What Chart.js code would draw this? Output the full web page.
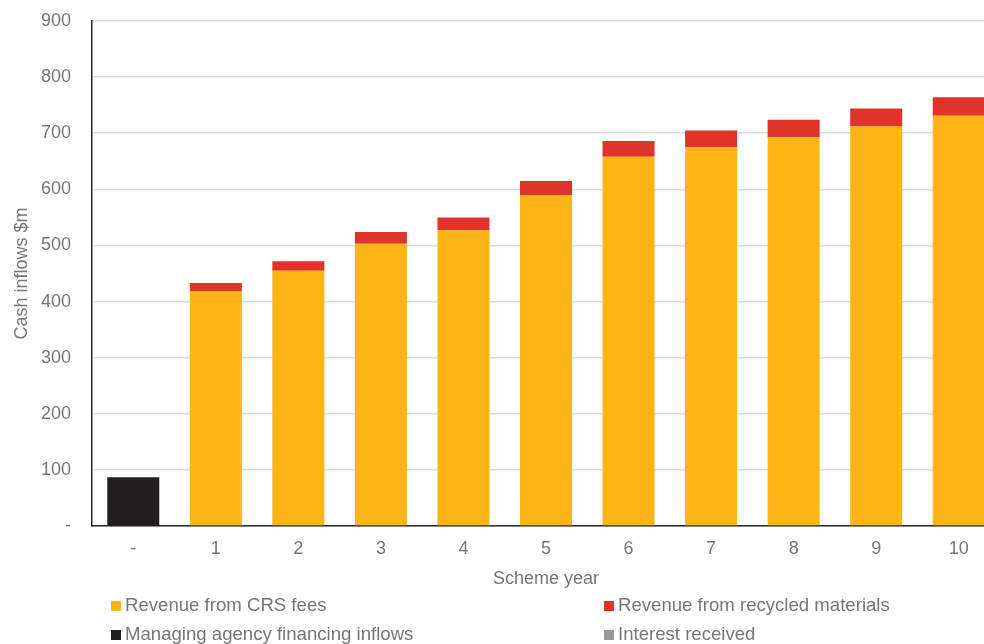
<!DOCTYPE html>
<html>
<head>
<meta charset="utf-8">
<script src="https://cdn.jsdelivr.net/npm/chart.js@4.4.1/dist/chart.umd.min.js"></script>
<style>
  html, body { margin: 0; padding: 0; background: #ffffff; overflow: hidden; }
  #wrap { position: relative; width: 1000px; height: 644px; }
</style>
</head>
<body>
<div id="wrap"><canvas id="chart"></canvas></div>
<script>
// Scheme years ('-' is the pre-launch year)
const categories = ['-', '1', '2', '3', '4', '5', '6', '7', '8', '9', '10'];

// Cash inflows, $m
const crsFees          = [null, 418, 455, 503, 527, 589, 658, 675, 693, 712, 731];
const recycledMaterials = [null, 15, 17, 21, 23, 26, 28, 30, 31, 32, 33];
const agencyFinancing  = [87, null, null, null, null, null, null, null, null, null, null];
const interestReceived = [0, 0, 0, 0, 0, 0, 0, 0, 0, 0, 0];

const seriesNames = [
  'Revenue from CRS fees',
  'Revenue from recycled materials',
  'Managing agency financing inflows',
  'Interest received'
];
const seriesColors = ['#FDB415', '#E0332A', '#231F20', '#999999'];

const yTicks = [0, 100, 200, 300, 400, 500, 600, 700, 800, 900];

const TEXT = '#767676';
const FAMILY = '"Liberation Sans", Arial, sans-serif';
const FONT = { family: FAMILY, size: 18 };

// Two-column legend drawn under the axis title
const gridLegend = {
  id: 'gridLegend',
  afterDraw(chart) {
    const ctx = chart.ctx;
    const cols = [111, 604];
    const rows = [606, 635];
    ctx.save();
    ctx.font = '18.6px ' + FAMILY;
    ctx.textBaseline = 'middle';
    ctx.textAlign = 'left';
    chart.data.datasets.forEach((ds, i) => {
      const x = cols[i % 2];
      const y = rows[Math.floor(i / 2)];
      ctx.fillStyle = ds.backgroundColor;
      ctx.fillRect(x, y - 5, 10, 10);
      ctx.fillStyle = TEXT;
      ctx.fillText(ds.label, x + 14, y);
    });
    ctx.restore();
  }
};

const seriesData = [crsFees, recycledMaterials, agencyFinancing, interestReceived];

new Chart(document.getElementById('chart'), {
  type: 'bar',
  data: {
    labels: categories,
    datasets: seriesData.map((d, i) => ({
      label: seriesNames[i],
      data: d,
      backgroundColor: seriesColors[i],
      borderWidth: 0,
      categoryPercentage: 1,
      barPercentage: 0.63
    }))
  },
  plugins: [gridLegend],
  options: {
    responsive: true,
    maintainAspectRatio: false,
    animation: false,
    layout: { padding: { top: 21, bottom: 48, left: 0, right: 0 } },
    plugins: {
      legend: { display: false },
      tooltip: { enabled: false }
    },
    scales: {
      x: {
        stacked: true,
        grid: { display: false, drawTicks: false },
        border: { display: true, color: '#262626', width: 1.5 },
        ticks: { color: TEXT, font: FONT, padding: 12 },
        title: {
          display: true,
          text: 'Scheme year',
          color: TEXT,
          font: FONT,
          padding: { top: 0, bottom: 6 }
        },
        afterFit(scale) { scale.height = 70; }
      },
      y: {
        stacked: true,
        min: 0,
        max: 900,
        afterBuildTicks(scale) { scale.ticks = yTicks.map(v => ({ value: v })); },
        grid: { color: '#DCDCDC', lineWidth: 1.5, drawTicks: false },
        border: { display: true, color: '#262626', width: 1.5 },
        ticks: {
          color: TEXT,
          font: FONT,
          padding: 21,
          callback: v => (v === 0 ? '-' : String(v))
        },
        title: {
          display: true,
          text: 'Cash inflows $m',
          color: TEXT,
          font: FONT,
          padding: { top: 11, bottom: 0 }
        },
        afterFit(scale) {
          scale.width = 92;
          scale.paddingTop = 0;
          scale.paddingBottom = 0;
        }
      }
    }
  }
});
</script>
</body>
</html>
